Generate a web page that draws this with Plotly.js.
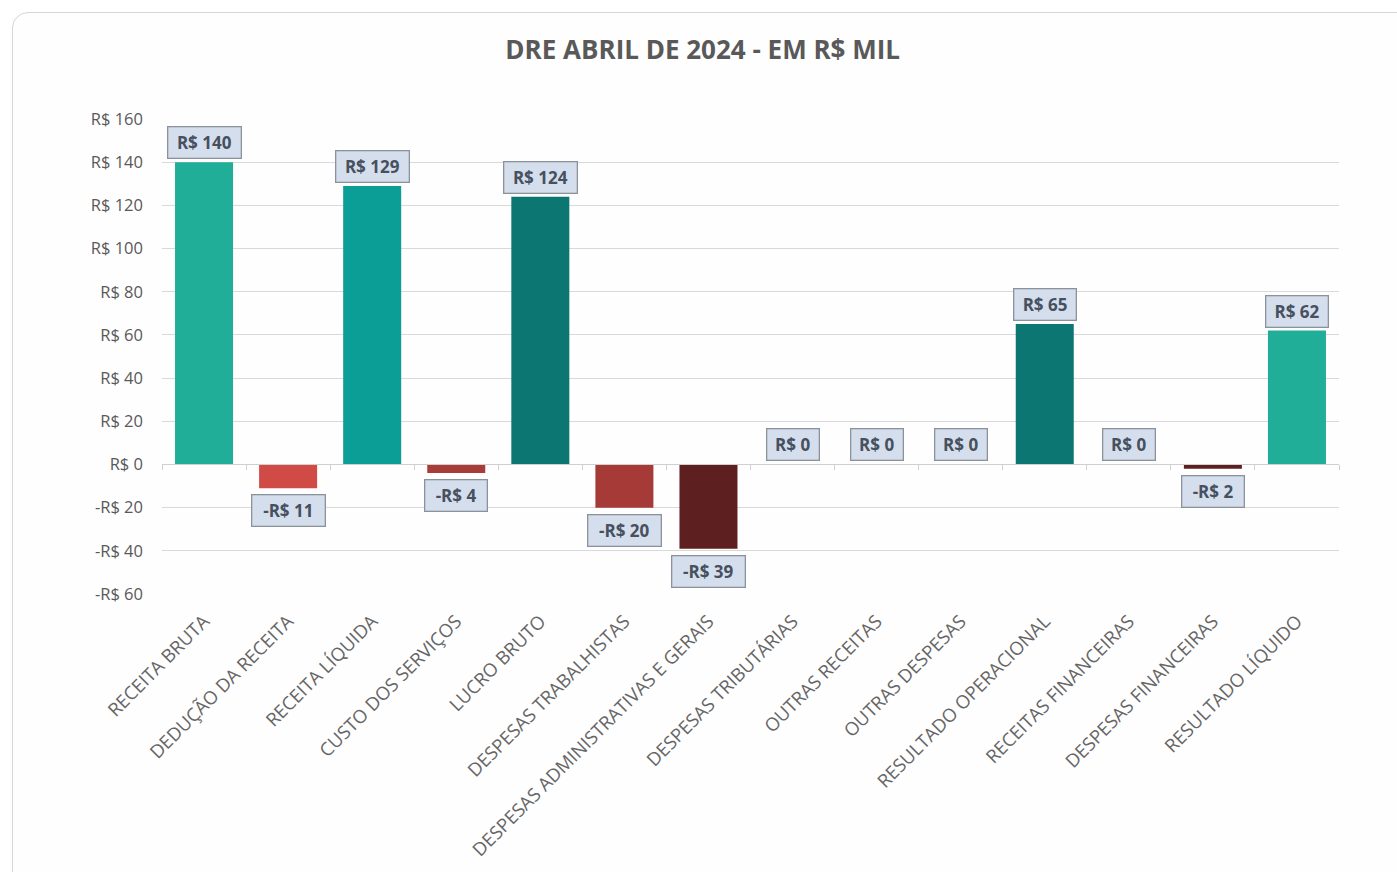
<!DOCTYPE html>
<html><head><meta charset="utf-8">
<script src="https://cdn.plot.ly/plotly-3.0.1.min.js"></script>
<style>
html,body{margin:0;padding:0;background:#fff;width:1397px;height:872px;overflow:hidden;}
#frame{position:absolute;left:12px;top:12px;width:1420px;height:900px;border:1px solid #d6d6d6;border-radius:16px;background:#fefefe;}
#chart{position:absolute;left:0;top:0;width:1397px;height:872px;}
</style></head>
<body>
<div id="frame"></div>
<div id="chart"></div>
<script>
const categories = ["RECEITA BRUTA","DEDUÇÃO DA RECEITA","RECEITA LÍQUIDA","CUSTO DOS SERVIÇOS","LUCRO BRUTO","DESPESAS TRABALHISTAS","DESPESAS ADMINISTRATIVAS E GERAIS","DESPESAS TRIBUTÁRIAS","OUTRAS RECEITAS","OUTRAS DESPESAS","RESULTADO OPERACIONAL","RECEITAS FINANCEIRAS","DESPESAS FINANCEIRAS","RESULTADO LÍQUIDO"];
const values = [140, -11, 129, -4, 124, -20, -39, 0, 0, 0, 65, 0, -2, 62];
const barColors = ["#21AE98","#D04A46","#0A9E96","#A83C38","#0B7672","#A53A36","#5E1F21","#21AE98","#21AE98","#21AE98","#0B7672","#21AE98","#5E1F21","#21AE98"];
const yTickVals = [-60,-40,-20,0,20,40,60,80,100,120,140,160];
const yTickText = ["-R$ 60","-R$ 40","-R$ 20","R$ 0","R$ 20","R$ 40","R$ 60","R$ 80","R$ 100","R$ 120","R$ 140","R$ 160"];

function fmt(v){ const r=Math.round(v); return (r<0?"-R$ ":"R$ ")+Math.abs(r); }

const font = "Open Sans, Noto Sans, sans-serif";
const traces = [
 {type:"bar", x:categories, y:values, marker:{color:barColors}, hoverinfo:"x+y", xaxis:"x", yaxis:"y"},
 {type:"scatter", mode:"none", x:categories, y:values, xaxis:"x2", yaxis:"y", hoverinfo:"skip", showlegend:false}
];
const annotations = categories.map((c,i)=>{
 const t = fmt(values[i]);
 return {
 x:c, y:values[i], xref:"x", yref:"y",
 text:"<b>"+t+"</b>", showarrow:false,
 yanchor: values[i]<0 ? "top":"bottom",
 yshift: values[i]<0 ? -6 : 3,
 width: 10.5*t.length + 1, height:22, align:"center", valign:"middle",
 font:{family:font, size:17, color:"#46505E"},
 bgcolor:"#D4DEEC", bordercolor:"#8A929C", borderwidth:1.3, borderpad:4
 };
});
const layout = {
 width:1397, height:872,
 paper_bgcolor:"rgba(0,0,0,0)", plot_bgcolor:"rgba(0,0,0,0)",
 margin:{l:162, r:58, t:119, b:278},
 showlegend:false, bargap:0.31,
 title:{text:"<b>DRE ABRIL DE 2024 - EM R$ MIL</b>", x:0.503, xanchor:"center", y:0.943, yanchor:"middle",
   font:{family:font, size:26, color:"#595959"}},
 font:{family:font, color:"#595959"},
 xaxis:{type:"category", tickangle:-45, tickfont:{size:18.5, color:"#666666"}, showgrid:false, zeroline:false, showline:false, ticks:"", ticklabelstandoff:12, automargin:false},
 xaxis2:{type:"category", overlaying:"x", matches:"x", anchor:"free", position:60/220, showticklabels:false,
   ticks:"outside", ticklen:5, tickcolor:"#D0D0D0", tickson:"boundaries", showline:true, linecolor:"#D0D0D0", linewidth:1, showgrid:false, zeroline:false},
 yaxis:{range:[-60,160], tickvals:yTickVals, ticktext:yTickText, tickfont:{size:16.5, color:"#595959"},
   gridcolor:"#D9D9D9", gridwidth:1, zeroline:false, showline:false, ticklabelstandoff:18, automargin:false, fixedrange:true},
 annotations:annotations
};
Plotly.newPlot("chart", traces, layout, {displayModeBar:false, staticPlot:true});
</script>
</body></html>
